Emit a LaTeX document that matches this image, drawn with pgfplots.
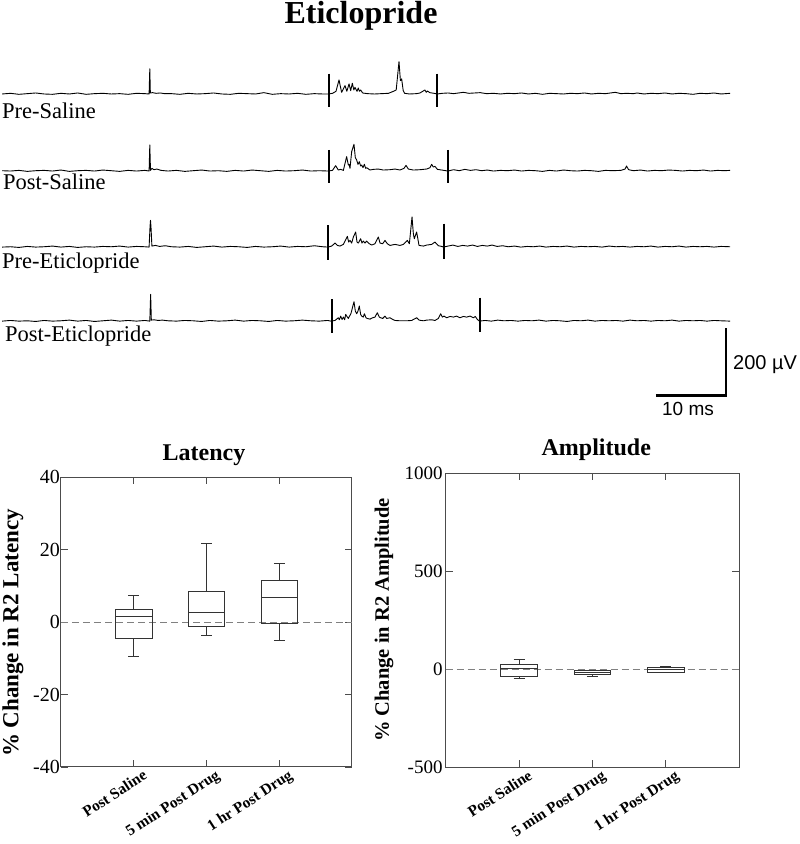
\documentclass[border=0pt]{standalone}
\usepackage{fontspec}
\setmainfont{Liberation Serif}
\newfontfamily\sansf{Liberation Sans}
\usepackage{pgfplots}
\pgfplotsset{compat=1.18}
\usepackage{pgfplotstable}
\usepgfplotslibrary{statistics}

\pgfplotstableread{
t v
0.3 0
1.5 2
2.7 -1
3.9 1
5.1 3
6.3 0
7.5 -1
8.7 2
9.9 0
11.1 3
12.3 -1
13.5 1
14.7 2
15.9 0
17.1 1
18.3 -1
19.5 2
20.7 1
21.3 0
21.4 75
21.48 3
21.8 4
22.3 2
22.9 3
23.5 1
24.5 1
25.7 -1
26.9 2
28.1 0
29.3 1
30.5 3
31.7 0
32.9 -1
34.1 2
35.3 1
36.5 0
37.7 4
38.9 -1
40.1 1
41.3 0
42.5 2
43.7 -1
44.9 1
46.1 0
46.95 0
47.5 2
48.0 8
48.43 42
48.8 5
49.29 25
49.55 8
49.86 30
50.1 10
50.33 32
50.55 12
50.71 20
51.0 8
51.19 18
51.35 8
51.52 12
51.8 3
52.5 1
53.5 0
54.5 1
55.5 2
56.2 8
56.6 12
57.0 97
57.2 40
57.38 45
57.6 10
57.8 2
58.5 0
59.5 1
60.0 3
60.7 12
60.9 5
61.05 9
61.4 4
62.0 2
62.45 0
63.2 2
64.0 3
64.8 1
65.5 3
66.2 5
67.0 2
67.8 3
68.6 4
69.5 1
70.5 2
71.5 0
72.5 2
73.5 1
74.5 3
75.5 0
76.5 2
77.5 -1
78.5 2
79.5 1
80.5 0
81.5 2
82.5 1
83.5 3
84.5 0
85.5 2
86.5 1
87.9 5
88.7 1
89.5 2
90.5 1
91.0 3
92.0 0
93.0 2
94.0 1
95.0 3
96.0 0
97.0 2
98.0 1
99.0 -1
100.0 2
101.0 1
102.0 3
103.0 0
104.3 2
}\trA

\pgfplotstableread{
t v
0.3 1
1.5 0
2.7 2
3.9 -1
5.1 1
6.3 2
7.5 0
8.7 3
9.9 -1
11.1 1
12.3 2
13.5 0
14.7 3
15.9 1
17.1 -1
18.3 2
19.5 0
20.7 2
21.3 0
21.4 78
21.5 2
21.7 8
22.0 4
22.4 6
23.0 2
24.0 0
25.2 2
26.4 -1
27.6 1
28.8 3
30.0 0
31.2 1
32.4 -1
33.6 2
34.8 0
36.0 3
37.2 1
38.4 -1
39.6 2
40.8 0
42.0 1
43.2 3
44.4 0
45.6 1
46.9 0
47.5 2
47.95 16
48.33 3
48.67 5
49.05 2
49.52 43
49.76 18
49.86 20
50.0 8
50.24 58
50.57 80
50.76 40
50.95 33
51.14 20
51.33 28
51.52 15
51.67 18
51.86 10
52.05 20
52.24 8
52.38 10
52.86 3
53.33 5
54.05 6
54.76 3
55.71 4
56.43 6
57.14 3
57.71 8
58.0 17
58.33 6
59.05 3
60.0 4
60.95 6
61.43 10
61.67 20
61.9 12
62.14 14
62.48 5
63.1 3
64.0 0
64.8 4
65.6 1
66.4 5
67.2 2
68.0 4
68.8 1
69.6 3
70.5 0
71.5 2
72.5 1
73.5 3
74.5 0
75.5 2
76.5 1
77.5 -1
78.5 2
79.5 0
80.5 3
81.5 1
82.5 0
83.5 2
84.5 1
85.5 -1
86.5 2
87.5 1
88.7 2
89.3 6
89.5 15
89.8 4
90.5 1
91.5 3
92.5 0
93.5 2
94.5 1
95.5 3
96.5 2
97.5 0
98.5 2
99.5 1
100.5 3
101.5 0
102.5 2
103.5 1
104.3 2
}\trB

\pgfplotstableread{
t v
0.3 0
1.5 1
2.7 -1
3.9 2
5.1 0
6.3 1
7.5 3
8.7 0
9.9 2
11.1 -1
12.3 1
13.5 0
14.7 2
15.9 1
17.1 3
18.3 0
19.5 2
20.7 1
21.3 0
21.43 60
21.5 80
21.57 60
21.7 3
22.2 5
22.8 2
23.6 4
24.5 1
25.7 0
26.9 2
28.1 -1
29.3 1
30.5 3
31.7 0
32.9 2
34.1 1
35.3 -1
36.5 2
37.7 0
38.9 1
40.1 3
41.3 0
42.5 2
43.7 1
44.9 4
46.1 1
46.85 0
47.38 3
47.86 12
48.19 5
48.57 3
49.05 8
49.62 32
49.81 15
50.0 20
50.24 12
50.48 30
50.81 45
51.0 15
51.19 12
51.52 25
51.71 12
51.9 18
52.14 12
52.38 18
52.76 10
53.1 6
53.57 10
54.05 30
54.29 12
54.67 10
55.0 20
55.33 10
55.71 5
56.43 8
57.14 5
57.62 8
58.19 20
58.48 10
58.86 90
59.05 40
59.19 25
59.52 45
59.86 5
60.48 3
60.95 6
61.67 8
62.14 15
62.62 4
63.1 2
63.35 0
64.0 3
64.7 6
65.4 2
66.1 5
66.8 3
67.5 6
68.2 2
68.9 5
69.6 3
70.3 6
71.0 2
71.8 4
72.6 1
73.5 3
74.4 0
75.3 2
76.2 1
77.1 3
78.0 0
79.0 2
80.0 1
81.0 3
82.0 0
83.0 2
84.0 1
85.0 2
86.0 0
87.0 3
88.0 1
89.0 2
90.0 0
91.0 2
92.0 1
93.0 3
94.0 0
95.0 2
96.0 1
97.0 3
98.0 0
99.0 2
100.0 1
101.0 2
102.0 0
103.0 2
104.3 1
}\trC

\pgfplotstableread{
t v
0.3 0
1.5 2
2.7 0
3.9 1
5.1 -1
6.3 2
7.5 0
8.7 1
9.9 3
11.1 0
12.3 2
13.5 -1
14.7 1
15.9 3
17.1 0
18.3 2
19.5 0
20.7 2
21.4 0
21.52 80
21.62 3
22.0 4
22.6 2
23.2 3
24.0 1
25.2 0
26.4 2
27.6 1
28.8 -1
30.0 2
31.2 0
32.4 1
33.6 3
34.8 0
36.0 2
37.2 1
38.4 -1
39.6 2
40.8 0
42.0 1
43.2 3
44.4 1
45.6 0
46.8 2
47.3 0
47.86 2
48.33 10
48.48 4
48.67 15
48.86 5
49.05 12
49.24 4
49.38 20
49.76 8
50.14 23
50.57 58
50.76 30
50.95 22
51.14 30
51.33 45
51.52 20
51.67 15
51.9 12
52.05 22
52.29 10
52.48 8
52.86 6
53.24 10
53.57 12
53.9 25
54.19 12
54.38 10
54.67 8
55.0 15
55.24 8
55.71 10
56.1 5
56.43 2
57.14 1
58.1 1
58.81 2
59.52 10
59.86 3
60.48 1
60.95 3
61.67 4
62.14 2
62.62 8
62.95 22
63.19 12
63.43 15
63.81 10
64.29 14
64.76 12
65.24 15
65.71 10
66.19 14
66.67 12
67.14 15
67.62 10
67.9 14
68.19 5
68.5 0
69.3 2
70.2 0
71.1 3
72.0 1
73.0 2
74.0 0
75.0 2
76.0 1
77.0 3
78.0 0
79.0 2
80.0 1
81.0 -1
82.0 2
83.0 1
84.0 3
85.0 0
86.0 2
87.0 1
88.0 2
89.0 0
90.0 3
91.0 1
92.0 2
93.0 0
94.0 2
95.0 1
96.0 3
97.0 0
98.0 2
99.0 1
100.0 2
101.0 0
102.0 2
103.0 1
104.3 0
}\trD

\begin{document}
\begin{tikzpicture}[x=1pt,y=1pt]
\path[use as bounding box] (0pt,0pt) rectangle (800pt,844pt);

% Title
\node[anchor=base, font=\bfseries\fontsize{32}{36}\selectfont, inner sep=0pt] at (361pt,820pt) {Eticlopride};

% Traces
\begin{axis}[at={(0pt,448.5pt)}, anchor=south west, scale only axis,
  width=728pt, height=351.75pt,
  xmin=0, xmax=104, ymin=-900, ymax=150,
  hide axis, clip=false]
\addplot[black, line width=0.9pt, line join=round] table[x=t, y=v] {\trA};
\addplot[black, line width=0.9pt, line join=round] table[x=t, y expr=\thisrow{v}-230] {\trB};
\addplot[black, line width=0.9pt, line join=round] table[x=t, y expr=\thisrow{v}-457] {\trC};
\addplot[black, line width=0.9pt, line join=round] table[x=t, y expr=\thisrow{v}-678] {\trD};
% stimulus artifacts
\addplot[black, line width=2pt] coordinates {(47.0,61) (47.0,-40)};
\addplot[black, line width=2pt] coordinates {(62.48,61) (62.48,-40)};
\addplot[black, line width=2pt] coordinates {(47.0,-167) (47.0,-265)};
\addplot[black, line width=2pt] coordinates {(64.05,-167) (64.05,-265)};
\addplot[black, line width=2pt] coordinates {(46.9,-392) (46.9,-497)};
\addplot[black, line width=2pt] coordinates {(63.4,-387) (63.4,-492)};
\addplot[black, line width=2pt] coordinates {(47.38,-613) (47.38,-713)};
\addplot[black, line width=2pt] coordinates {(68.57,-608) (68.57,-711)};
% scale bar
\addplot[black, line width=2.6pt, line join=miter] coordinates {(93.7,-900) (103.7,-900) (103.7,-700)};
\end{axis}

% Trace labels
\begin{scope}[every node/.style={anchor=base west, inner sep=0pt, font=\fontsize{22.5}{26}\selectfont}]
\node at (2pt,725.7pt) {Pre-Saline};
\node at (3pt,654pt) {Post-Saline};
\node at (2pt,575.7pt) {Pre-Eticlopride};
\node at (5pt,502.3pt) {Post-Eticlopride};
\end{scope}
\node[anchor=west, inner sep=0pt, font=\sansf\fontsize{20}{24}\selectfont] at (733pt,479pt) {200 µV};
\node[anchor=center, inner sep=0pt, font=\sansf\fontsize{19}{23}\selectfont] at (688pt,435pt) {10 ms};

% Box plot common style
\pgfplotsset{boxax/.style={
  scale only axis, anchor=south west,
  xmin=0, xmax=4, xtick={1,2,3},
  xticklabels={Post Saline, 5 min Post Drug, 1 hr Post Drug},
  tick align=inside, tick pos=both, xticklabel pos=lower, yticklabel pos=left,
  major tick length=7pt,
  axis line style={black!70, line width=1pt},
  tick style={black!70, line width=0.9pt},
  /pgf/number format/assume math mode=true,
  /pgf/number format/1000 sep={},
  xticklabel style={font=\bfseries\fontsize{15.5}{17}\selectfont, rotate=33, anchor=north east, inner sep=1pt, xshift=7pt, yshift=-5pt},
  yticklabel style={font=\fontsize{20}{22}\selectfont, inner sep=1pt},
  boxplot/draw direction=y,
  boxplot/box extend=0.5,
  boxplot/whisker extend=0.15,
}}

\begin{axis}[boxax, at={(61pt,77pt)}, width=291pt, height=290pt,
  ymin=-40, ymax=40, ytick={-40,-20,0,20,40}]
\addplot[gray, line width=0.8pt, dash pattern=on 7pt off 4pt] coordinates {(0,0) (4,0)};
\addplot+[boxplot prepared={draw position=1, lower whisker=-9.4, lower quartile=-4.6, median=1.6, upper quartile=3.6, upper whisker=7.4}, black!80, solid, line width=0.8pt, mark=none] coordinates {};
\addplot+[boxplot prepared={draw position=2, lower whisker=-3.6, lower quartile=-1.2, median=2.6, upper quartile=8.4, upper whisker=21.6}, black!80, solid, line width=0.8pt, mark=none] coordinates {};
\addplot+[boxplot prepared={draw position=3, lower whisker=-5.0, lower quartile=-0.4, median=6.7, upper quartile=11.4, upper whisker=16.1}, black!80, solid, line width=0.8pt, mark=none] coordinates {};
\end{axis}

\begin{axis}[boxax, at={(445.7pt,76.7pt)}, width=293.6pt, height=294pt,
  ymin=-500, ymax=1000, ytick={-500,0,500,1000},
  yticklabel style={font=\fontsize{19}{22}\selectfont, inner sep=3pt}]
\addplot[gray, line width=0.8pt, dash pattern=on 7pt off 4pt] coordinates {(0,0) (4,0)};
\addplot+[boxplot prepared={draw position=1, lower whisker=-46, lower quartile=-34, median=3, upper quartile=25, upper whisker=51}, black!80, solid, line width=0.8pt, mark=none] coordinates {};
\addplot+[boxplot prepared={draw position=2, lower whisker=-34, lower quartile=-26, median=-15, upper quartile=-7, upper whisker=-4}, black!80, solid, line width=0.8pt, mark=none] coordinates {};
\addplot+[boxplot prepared={draw position=3, lower whisker=-17, lower quartile=-14, median=0, upper quartile=10, upper whisker=17}, black!80, solid, line width=0.8pt, mark=none] coordinates {};
\end{axis}

% Box plot titles and y labels
\node[anchor=base, inner sep=0pt, font=\bfseries\fontsize{24}{28}\selectfont] at (204pt,383.3pt) {Latency};
\node[anchor=base, inner sep=0pt, font=\bfseries\fontsize{24}{28}\selectfont] at (596.3pt,388pt) {Amplitude};
\node[rotate=90, inner sep=0pt, font=\bfseries\fontsize{23}{26}\selectfont] at (13pt,211pt) {\% Change in R2 Latency};
\node[rotate=90, inner sep=0pt, font=\bfseries\fontsize{20.5}{24}\selectfont] at (384pt,224pt) {\% Change in R2 Amplitude};
\end{tikzpicture}
\end{document}
